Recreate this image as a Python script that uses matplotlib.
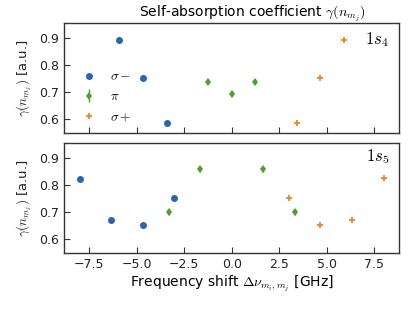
import matplotlib
matplotlib.use('Agg')
import matplotlib.pyplot as plt

plt.rcParams['mathtext.fontset'] = 'cm'
plt.rcParams['font.family'] = 'DejaVu Sans'

# 1s4 data
s4_sm_x = [-5.9, -4.65, -3.41]
s4_sm_y = [0.895, 0.754, 0.587]
s4_pi_x = [-1.22, 0.0, 1.22]
s4_pi_y = [0.739, 0.695, 0.739]
s4_pi_err = [0.01, 0.01, 0.01]
s4_sp_x = [3.41, 4.65, 5.9]
s4_sp_y = [0.587, 0.754, 0.895]

# 1s5 data
s5_sm_x = [-8.0, -6.33, -4.67, -3.03]
s5_sm_y = [0.823, 0.671, 0.651, 0.752]
s5_pi_x = [-3.32, -1.66, 1.66, 3.32]
s5_pi_y = [0.701, 0.858, 0.858, 0.701]
s5_pi_err = [0.01, 0.01, 0.01, 0.01]
s5_sp_x = [3.03, 4.67, 6.33, 8.0]
s5_sp_y = [0.752, 0.651, 0.671, 0.825]

blue = '#2e64ae'
green = '#4f9f30'
orange = '#e6862f'
edge = '#333333'

fig = plt.figure(figsize=(4.15, 3.11), dpi=100)
ax1 = fig.add_axes([0.155, 0.573, 0.8065, 0.352])
ax2 = fig.add_axes([0.155, 0.1875, 0.8065, 0.352], sharex=ax1, sharey=ax1)

def draw(ax, smx, smy, pix, piy, pie, spx, spy):
    h1, = ax.plot(smx, smy, 'o', color=blue, ms=4, ls='none', label=r'$\sigma-$')
    h2 = ax.errorbar(pix, piy, yerr=pie, fmt='d', color=green, ms=4.5, mew=0,
                     elinewidth=1, ls='none', label=r'$\pi$')
    h3, = ax.plot(spx, spy, '+', color=orange, ms=5, mew=1.3, ls='none', label=r'$\sigma+$')
    for sp in ax.spines.values():
        sp.set_color(edge)
        sp.set_linewidth(1.0)
    ax.tick_params(direction='in', length=4, width=0.8, color=edge,
                   labelsize=9, labelcolor='#222222')
    ax.set_ylabel(r'$\gamma(n_{m_j})$ [a.u.]', fontsize=9.5, color='#222222')
    ax.set_yticks([0.6, 0.7, 0.8, 0.9])
    return [h1, h2, h3]

hs = draw(ax1, s4_sm_x, s4_sm_y, s4_pi_x, s4_pi_y, s4_pi_err, s4_sp_x, s4_sp_y)
draw(ax2, s5_sm_x, s5_sm_y, s5_pi_x, s5_pi_y, s5_pi_err, s5_sp_x, s5_sp_y)

ax1.set_ylim(0.55, 0.955)
ax1.set_xticks([-7.5, -5.0, -2.5, 0.0, 2.5, 5.0, 7.5])
ax1.tick_params(labelbottom=False)

ax1.legend(handles=hs, loc='lower left', bbox_to_anchor=(-0.01, -0.05), frameon=False,
           fontsize=9.5, handletextpad=0.6, labelspacing=0.55, borderpad=0.6)

ax1.text(0.97, 0.85, r'$1s_4$', transform=ax1.transAxes, ha='right',
         va='center', fontsize=12)
ax2.text(0.97, 0.88, r'$1s_5$', transform=ax2.transAxes, ha='right',
         va='center', fontsize=12)

ax1.set_title(r'Self-absorption coefficient $\gamma(n_{m_j})$', fontsize=10,
              x=0.56, pad=4)
ax2.set_xlabel(r'Frequency shift $\Delta\nu_{m_i,m_j}$ [GHz]', fontsize=10,
               labelpad=2)

fig.savefig('out.png', dpi=100)
